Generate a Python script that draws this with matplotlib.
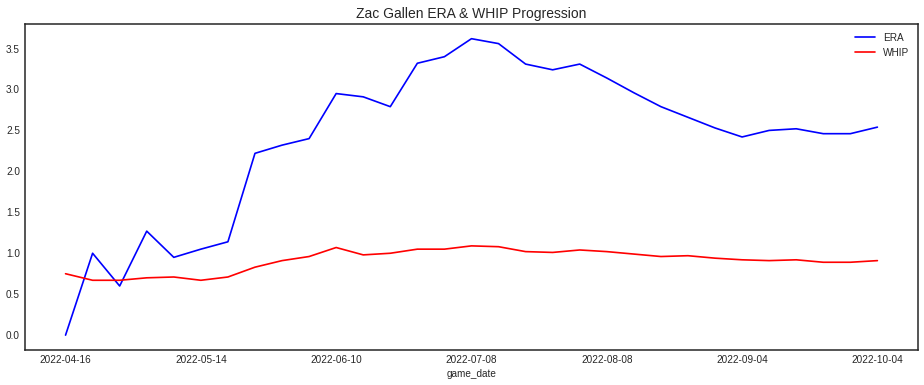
import matplotlib
matplotlib.use('Agg')
import matplotlib.pyplot as plt
import numpy as np

# game dates (only every 5th one shows as a tick label)
game_date = ['2022-04-16', '2022-04-22', '2022-04-27', '2022-05-03', '2022-05-09',
             '2022-05-14', '2022-05-20', '2022-05-25', '2022-05-31', '2022-06-05',
             '2022-06-10', '2022-06-16', '2022-06-21', '2022-06-26', '2022-07-02',
             '2022-07-08', '2022-07-14', '2022-07-23', '2022-07-29', '2022-08-03',
             '2022-08-08', '2022-08-13', '2022-08-19', '2022-08-24', '2022-08-30',
             '2022-09-04', '2022-09-10', '2022-09-16', '2022-09-22', '2022-09-28',
             '2022-10-04']

era = [0.00, 1.00, 0.60, 1.27, 0.95, 1.05, 1.14, 2.22, 2.32, 2.40,
       2.95, 2.91, 2.79, 3.32, 3.40, 3.62, 3.56, 3.31, 3.24, 3.31,
       3.14, 2.96, 2.79, 2.66, 2.53, 2.42, 2.50, 2.52, 2.46, 2.46,
       2.54]

whip = [0.75, 0.67, 0.67, 0.70, 0.71, 0.67, 0.71, 0.83, 0.91, 0.96,
        1.07, 0.98, 1.00, 1.05, 1.05, 1.09, 1.08, 1.02, 1.01, 1.04,
        1.02, 0.99, 0.96, 0.97, 0.94, 0.92, 0.91, 0.92, 0.89, 0.89,
        0.91]

plt.style.use('seaborn-v0_8-white')
plt.rcParams['font.family'] = ['Liberation Sans', 'DejaVu Sans']

fig = plt.figure(figsize=(9.24, 3.85), dpi=100)
ax = fig.add_axes([0.027, 0.091, 0.9665, 0.847])

x = np.arange(len(game_date))
ax.plot(x, era, color='blue', lw=1.2, label='ERA')
ax.plot(x, whip, color='red', lw=1.2, label='WHIP')

ax.set_xticks(x[::5])
ax.set_xticklabels(game_date[::5])
ax.tick_params(labelsize=7.2)
ax.set_xlabel('game_date', fontsize=7.2, labelpad=3)
ax.set_title('Zac Gallen ERA & WHIP Progression', fontsize=10, pad=4)
for s in ax.spines.values():
    s.set_color('#262626')
    s.set_linewidth(1.1)
ax.legend(loc='upper right', fontsize=7.2, frameon=False)

fig.savefig('out.png', dpi=100)
